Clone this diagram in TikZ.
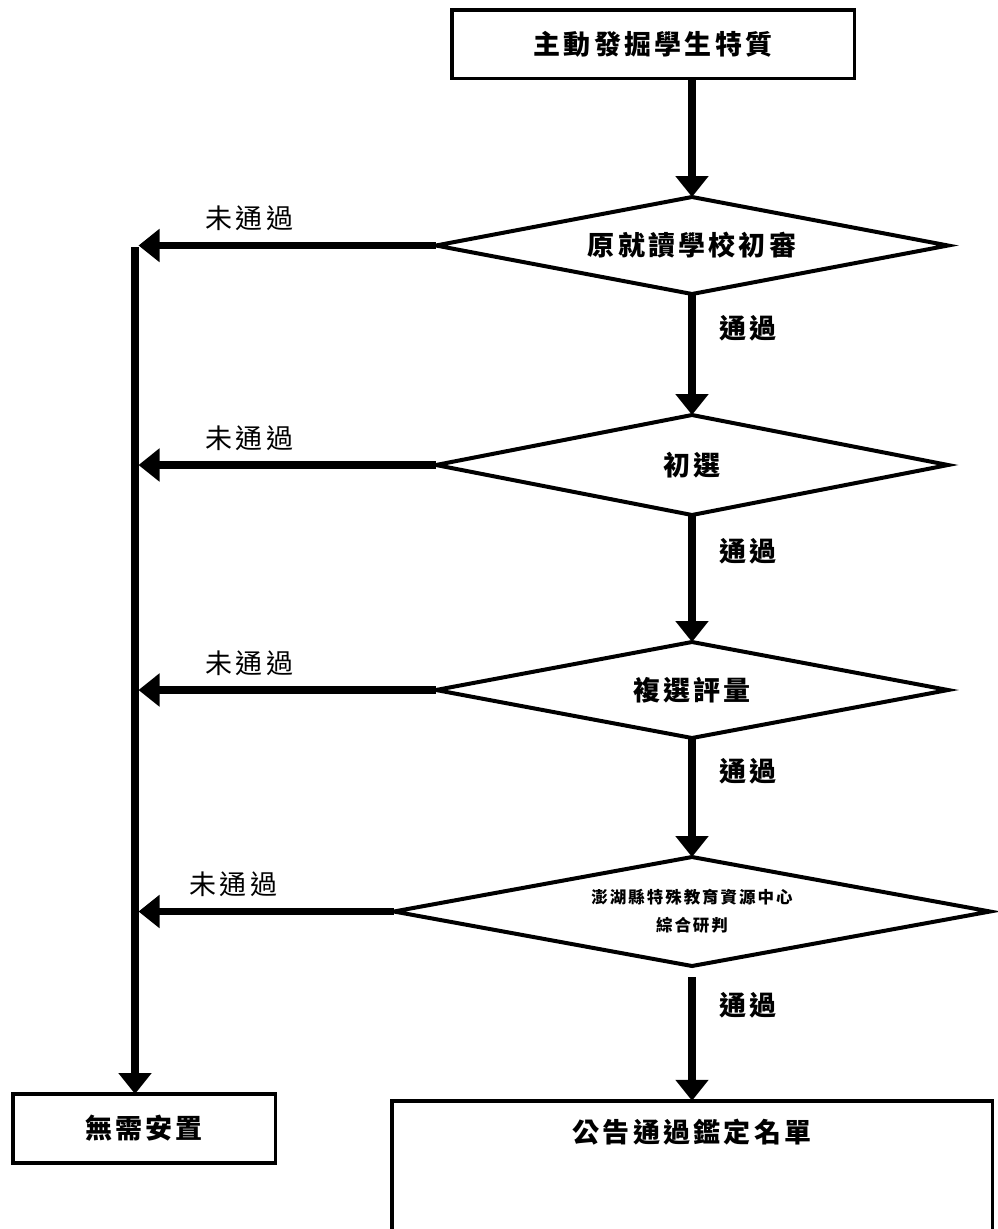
\documentclass[tikz,border=0pt]{standalone}
\usepackage{fontspec}
\usepackage{tikz}
\usetikzlibrary{positioning,shapes.geometric,arrows.meta}
\newfontfamily\cjk[LetterSpace=12]{Noto Sans CJK TC}

\begin{document}
\begin{tikzpicture}[
        x=1pt, y=-1pt, % pixel-like units
        box/.style={
            draw,
            rectangle,
            line width=3.5pt,
            inner sep=0pt,
            outer sep=0pt,
            font=\cjk\bfseries\fontsize{27pt}{32pt}\selectfont
        },
        check/.style={
            draw,
            diamond,
            aspect=6,
            line width=4pt,
            inner sep=0pt,
            outer sep=0pt,
            minimum width=512pt,
            align=center,
            font=\cjk\bfseries\fontsize{27pt}{32pt}\selectfont
        },
        arrow/.style={
            -{Triangle[length=21pt,width=32pt]},
            line width=7.5pt
        },
        pass/.style={
            pos=.38,
            anchor=west,
            xshift=20pt,
            yshift=12pt,
            font=\cjk\bfseries\fontsize{27pt}{32pt}\selectfont
        },
        fail/.style={
            pos=.62,
            yshift=27pt,
            font=\cjk\fontsize{27pt}{32pt}\selectfont
        }
    ]
        \useasboundingbox (0,0) rectangle (997,1229);

        \node (start) [box, minimum width=402.5pt, minimum height=68.5pt] at (653,44) {主動發掘學生特質};
        \node (school) [check, minimum height=97pt, below=118.75pt of start, xshift=39pt] {原就讀學校初審};
        \node (first) [check, minimum height=100pt, below=121pt of school] {初選};
        \node (second) [check, minimum height=96pt, below=127pt of first] {複選評量};
        \node (center) [check, minimum width=596pt, minimum height=109pt, below=119pt of second,
            font=\cjk\bfseries\fontsize{16.5pt}{28pt}\selectfont] {澎湖縣特殊教育資源中心\\綜合研判};
        \node (list) [box, minimum width=600.5pt, text height=42pt, text depth=200pt, below=134.75pt of center] {公告通過鑑定名單};
        \node (none) [box, minimum width=262.5pt, minimum height=69pt] at (144,1128.5) {無需安置};
        \coordinate (rail) at (135,247);

        % main line
        \draw[arrow] (start.south -| school.north) -- (school.north);
        \draw[arrow] (school) -- (first) node[pass] {通過};
        \draw[arrow] (first) -- (second) node[pass] {通過};
        \draw[arrow] (second) -- (center) node[pass] {通過};
        \draw[arrow, shorten <=11pt] (center) -- (list) node[pass] {通過};

        % rejected
        \draw[arrow, shorten >=3.5pt] (school.west) -- (rail |- school.west) node[fail] {未通過};
        \draw[arrow, shorten >=3.5pt] (first.west) -- (rail |- first.west) node[fail] {未通過};
        \draw[arrow, shorten >=3.5pt] (second.west) -- (rail |- second.west) node[fail] {未通過};
        \draw[arrow, shorten >=3.5pt] (center.west) -- (rail |- center.west) node[fail] {未通過};
        \draw[arrow] (rail) -- (rail |- none.north);
    \end{tikzpicture}
\end{document}
